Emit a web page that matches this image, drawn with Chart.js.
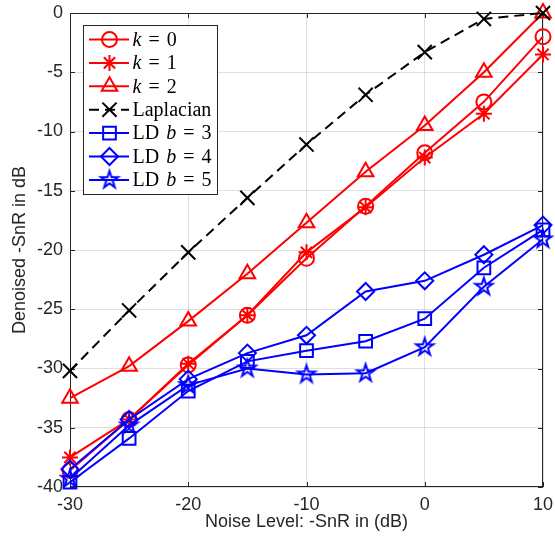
<!DOCTYPE html>
<html>
<head>
<meta charset="utf-8">
<script src="https://cdn.jsdelivr.net/npm/chart.js@4.4.0/dist/chart.umd.min.js"></script>
<style>
  html, body { margin: 0; padding: 0; background: #fff; }
  canvas { display: block; }
</style>
</head>
<body>
<canvas id="denoiseChart" width="555" height="538"></canvas>
<script>
// noise level (x axis)
const noiseLevels = [-30, -25, -20, -15, -10, -5, 0, 5, 10];

// denoised -SnR per method
const k0 = [-38.6, -34.3, -29.7, -25.5, -20.7, -16.3, -11.8, -7.5, -2.0];
const k1 = [-37.5, -34.3, -29.6, -25.5, -20.2, -16.4, -12.2, -8.5, -3.5];
const k2 = [-32.5, -29.8, -26.0, -22.0, -17.7, -13.4, -9.5, -5.0, 0.0];
const laplacian = [-30.2, -25.1, -20.2, -15.6, -11.1, -6.9, -3.3, -0.5, 0.0];
const ldB3 = [-39.6, -35.9, -31.9, -29.4, -28.5, -27.7, -25.8, -21.5, -18.3];
const ldB4 = [-38.5, -34.3, -30.9, -28.7, -27.2, -23.5, -22.6, -20.4, -17.9];
const ldB5 = [-39.3, -34.8, -31.4, -30.0, -30.5, -30.4, -28.2, -23.1, -19.1];

const seriesLabels = ['k = 0', 'k = 1', 'k = 2', 'Laplacian', 'LD b = 3', 'LD b = 4', 'LD b = 5'];

// MATLAB style pentagram marker
function makePentagram(color, R) {
    const c = document.createElement('canvas');
    const s = Math.ceil(2 * R + 6);
    c.width = s; c.height = s;
    const g = c.getContext('2d');
    const r = R * 0.382;
    g.beginPath();
    for (let i = 0; i < 10; i++) {
        const a = -Math.PI / 2 + i * Math.PI / 5;
        const rr = i % 2 ? r : R;
        g.lineTo(s / 2 + rr * Math.cos(a), s / 2 + rr * Math.sin(a));
    }
    g.closePath();
    g.strokeStyle = color;
    g.lineWidth = 2;
    g.stroke();
    return c;
}

const RED = '#ff0000', BLUE = '#0000ff', BLACK = '#000000';
const styles = [
    { color: RED, point: 'circle', radius: 7.5 },
    { color: RED, point: 'star', radius: 8 },
    { color: RED, point: 'triangle', radius: 9 },
    { color: BLACK, point: 'crossRot', radius: 10, dash: [10, 6] },
    { color: BLUE, point: 'rect', radius: 9 },
    { color: BLUE, point: 'rectRot', radius: 8.5 },
    { color: BLUE, point: makePentagram(BLUE, 9), radius: 9 }
];
const allSeries = [k0, k1, k2, laplacian, ldB3, ldB4, ldB5];

const datasets = allSeries.map((vals, i) => {
    const st = styles[i];
    return {
        label: seriesLabels[i],
        data: noiseLevels.map((x, j) => ({ x: x, y: vals[j] })),
        borderColor: st.color,
        borderWidth: 2,
        borderDash: st.dash || [],
        pointStyle: st.point,
        pointRadius: st.radius,
        pointHoverRadius: st.radius,
        pointBorderColor: st.color,
        pointBorderWidth: 2,
        pointBackgroundColor: 'rgba(0,0,0,0)',
        fill: false,
        tension: 0,
        clip: false,
        order: allSeries.length - i
    };
});

const AXIS = '#262626';
const tickFont = { family: 'Liberation Sans, Arial, sans-serif', size: 18 };

// box + inward tick marks like MATLAB
const framePlugin = {
    id: 'frame',
    beforeDatasetsDraw(chart) {
        const { ctx, chartArea: a, scales } = chart;
        ctx.save();
        ctx.strokeStyle = AXIS;
        ctx.lineWidth = 1;
        ctx.strokeRect(a.left + 0.5, a.top + 0.5, a.right - a.left - 1, a.bottom - a.top - 1);
        ctx.beginPath();
        scales.x.ticks.forEach(t => {
            const px = Math.round(scales.x.getPixelForValue(t.value)) + 0.5;
            ctx.moveTo(px, a.bottom); ctx.lineTo(px, a.bottom - 5);
            ctx.moveTo(px, a.top); ctx.lineTo(px, a.top + 5);
        });
        scales.y.ticks.forEach(t => {
            const py = Math.round(scales.y.getPixelForValue(t.value)) + 0.5;
            ctx.moveTo(a.left, py); ctx.lineTo(a.left + 5, py);
            ctx.moveTo(a.right, py); ctx.lineTo(a.right - 5, py);
        });
        ctx.stroke();
        ctx.restore();
    }
};

// legend with line + marker sample and latex-ish labels
const legendPlugin = {
    id: 'boxLegend',
    afterDraw(chart) {
        const ctx = chart.ctx;
        const bx = 83, by = 25, bw = 134, bh = 169;
        ctx.save();
        ctx.fillStyle = '#fff';
        ctx.fillRect(bx, by, bw, bh);
        ctx.strokeStyle = AXIS;
        ctx.lineWidth = 1;
        ctx.strokeRect(bx + 0.5, by + 0.5, bw, bh);
        chart.data.datasets.forEach((ds, i) => {
            const y = 39.5 + i * 23.4;
            ctx.save();
            ctx.strokeStyle = ds.borderColor;
            ctx.lineWidth = ds.borderWidth;
            ctx.setLineDash(ds.borderDash);
            ctx.beginPath();
            ctx.moveTo(89, y); ctx.lineTo(129, y);
            ctx.stroke();
            ctx.restore();
            if (Chart.helpers && Chart.helpers.drawPoint) {
                ctx.save();
                ctx.strokeStyle = ds.pointBorderColor;
                ctx.fillStyle = ds.pointBackgroundColor;
                ctx.lineWidth = ds.pointBorderWidth;
                Chart.helpers.drawPoint(ctx, {
                    pointStyle: ds.pointStyle, radius: ds.pointRadius, rotation: 0, borderWidth: ds.pointBorderWidth
                }, 109.5, y);
                ctx.restore();
            }
            // text tokens
            let x = 132.5;
            ds.label.split(' ').forEach(tok => {
                const italic = (tok === 'k' || tok === 'b');
                ctx.font = (italic ? 'italic ' : '') + '20px "Liberation Serif", "Times New Roman", serif';
                ctx.fillStyle = '#000';
                ctx.textBaseline = 'middle';
                ctx.fillText(tok, x, y + 1);
                x += ctx.measureText(tok).width + 7;
            });
        });
        ctx.restore();
    }
};

new Chart(document.getElementById('denoiseChart').getContext('2d'), {
    type: 'line',
    data: { datasets: datasets },
    options: {
        responsive: false,
        animation: false,
        layout: { padding: { top: 13, right: 9, left: 0, bottom: 0 } },
        plugins: {
            legend: { display: false },
            tooltip: { enabled: false }
        },
        scales: {
            x: {
                type: 'linear',
                min: -30,
                max: 10,
                ticks: { stepSize: 10, color: AXIS, font: tickFont, padding: 7, maxRotation: 0 },
                grid: { color: 'rgba(38,38,38,0.15)', drawTicks: false },
                border: { display: false },
                title: {
                    display: true,
                    text: 'Noise Level: -SnR in (dB)',
                    color: AXIS,
                    font: tickFont,
                    padding: { top: 0, bottom: 5 }
                },
                afterFit(s) { s.height = 51; s.paddingLeft = 0; s.paddingRight = 0; }
            },
            y: {
                min: -40,
                max: 0,
                ticks: { stepSize: 5, color: AXIS, font: tickFont, padding: 7 },
                grid: { color: 'rgba(38,38,38,0.15)', drawTicks: false },
                border: { display: false },
                title: {
                    display: true,
                    text: 'Denoised -SnR in dB',
                    color: AXIS,
                    font: tickFont,
                    padding: { top: 9, bottom: 0 }
                },
                afterFit(s) { s.width = 70; s.paddingTop = 0; s.paddingBottom = 0; }
            }
        }
    },
    plugins: [framePlugin, legendPlugin]
});
</script>
</body>
</html>
